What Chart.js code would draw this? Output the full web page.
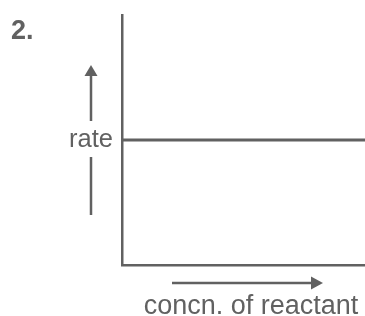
<!DOCTYPE html>
<html>
<head>
<meta charset="utf-8">
<script src="https://cdn.jsdelivr.net/npm/chart.js@4/dist/chart.umd.min.js"></script>
<style>
  html, body { margin: 0; padding: 0; background: #fff; }
  #wrap { width: 365px; height: 316px; }
</style>
</head>
<body>
<div id="wrap"><canvas id="rateChart" width="365" height="316"></canvas></div>
<script>
// data: zero-order reaction, rate does not depend on concentration
const concn = [0, 1];
const rate = [0.5, 0.5];
const questionLabel = '2.';
const yLabel = 'rate';
const xLabel = 'concn. of reactant';

const ink = '#616161';
const font = '"Liberation Sans", Arial, Helvetica, sans-serif';

function arrowHead(ctx, x, y, dir) {
    // dir: 'up' or 'right'
    ctx.beginPath();
    if (dir === 'up') {
        ctx.moveTo(x, y);
        ctx.lineTo(x - 6.5, y + 11);
        ctx.lineTo(x + 6.5, y + 11);
    } else {
        ctx.moveTo(x, y);
        ctx.lineTo(x - 12, y - 6.5);
        ctx.lineTo(x - 12, y + 6.5);
    }
    ctx.closePath();
    ctx.fill();
}

// labels and arrows around the axes
const labelsPlugin = {
    id: 'labels',
    afterDraw(chart) {
        const ctx = chart.ctx;
        const a = chart.chartArea;
        const midY = (a.top + a.bottom) / 2;
        ctx.save();
        ctx.fillStyle = ink;
        ctx.strokeStyle = ink;
        ctx.lineWidth = 2.5;

        ctx.font = 'bold 27px ' + font;
        ctx.textBaseline = 'alphabetic';
        ctx.textAlign = 'left';
        ctx.fillText(questionLabel, 11, 39);

        // y label with arrow
        ctx.font = '25.5px ' + font;
        ctx.textAlign = 'right';
        ctx.textBaseline = 'middle';
        ctx.fillText(yLabel, a.left - 9, midY);
        const ax = a.left - 31;
        ctx.beginPath();
        ctx.moveTo(ax, midY - 19);
        ctx.lineTo(ax, midY - 66);
        ctx.moveTo(ax, midY + 17);
        ctx.lineTo(ax, midY + 75);
        ctx.stroke();
        arrowHead(ctx, ax, midY - 75, 'up');

        // x label with arrow
        const ay = a.bottom + 18;
        ctx.beginPath();
        ctx.moveTo(a.left + 50, ay);
        ctx.lineTo(a.left + 190, ay);
        ctx.stroke();
        arrowHead(ctx, a.left + 201, ay, 'right');
        ctx.font = '27px ' + font;
        ctx.textAlign = 'center';
        ctx.textBaseline = 'alphabetic';
        ctx.fillText(xLabel, a.left + 129, a.bottom + 49);
        ctx.restore();
    }
};

new Chart(document.getElementById('rateChart').getContext('2d'), {
    type: 'line',
    data: {
        datasets: [{
            data: concn.map((x, i) => ({ x: x, y: rate[i] })),
            borderColor: ink,
            borderWidth: 3,
            pointRadius: 0,
            fill: false,
            clip: false
        }]
    },
    options: {
        responsive: false,
        animation: false,
        layout: { padding: { left: 122, top: 15, right: 0, bottom: 51 } },
        plugins: {
            legend: { display: false },
            tooltip: { enabled: false }
        },
        scales: {
            x: {
                type: 'linear',
                min: 0, max: 1,
                ticks: { display: false, padding: 0 },
                grid: { display: false, drawTicks: false, tickLength: 0 },
                border: { display: true, color: ink, width: 2.5 }
            },
            y: {
                min: 0, max: 1,
                ticks: { display: false, padding: 0 },
                grid: { display: false, drawTicks: false, tickLength: 0 },
                border: { display: true, color: ink, width: 2.5 }
            }
        }
    },
    plugins: [labelsPlugin]
});
</script>
</body>
</html>
